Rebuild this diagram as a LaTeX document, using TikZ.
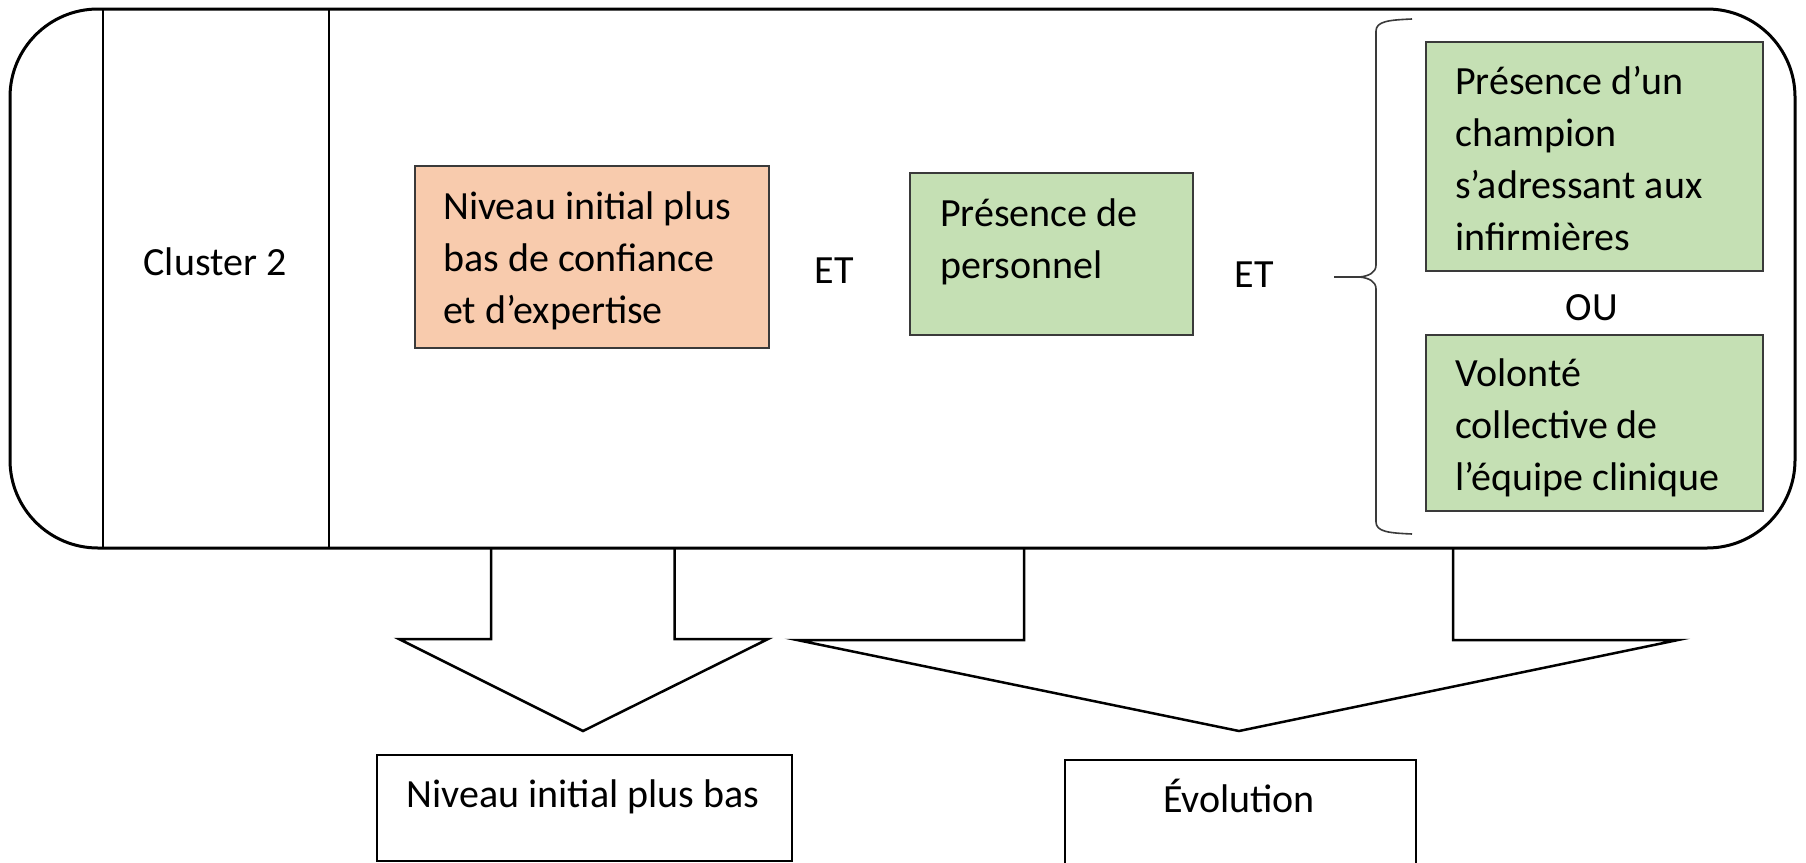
\documentclass[tikz,border=0pt]{standalone}
\usepackage{fontspec}
\setmainfont{Carlito}
\definecolor{peach}{HTML}{F8CBAD}
\definecolor{leaf}{HTML}{C5E0B4}
\definecolor{edge}{HTML}{3A3A3A}
\newcommand\mylines[1]{\begin{tabular}[t]{@{}l@{}}#1\end{tabular}}
\begin{document}
\begin{tikzpicture}[x=1pt,y=-1pt,
  frame/.style={line width=3pt, rounded corners=88pt},
  sep/.style={line width=2.5pt},
  box/.style={draw=edge, line width=1.8pt, inner sep=0pt},
  wbox/.style={draw=black, line width=1.6pt, inner sep=0pt, fill=white},
  txt/.style={inner sep=0pt, anchor=base west, font=\fontsize{40}{52}\selectfont},
  ctxt/.style={inner sep=0pt, anchor=base, font=\fontsize{40}{52}\selectfont},
  blockarrow/.style={line width=2.5pt, line join=miter},
  bracel/.style={draw=edge, line width=1.6pt}]
\useasboundingbox (0,0) rectangle (1806,862);
\fill[white] (0,0) rectangle (1806,862);

% outer frame
\draw[frame] (10,9) rectangle (1795,548);
\coordinate (s1t) at (103,9); \coordinate (s1b) at (103,548);
\coordinate (s2t) at (329,9); \coordinate (s2b) at (329,548);
\draw[sep] (s1t) -- (s1b);
\draw[sep] (s2t) -- (s2b);

\node[ctxt] (cl) at (215,275) {Cluster 2};

% boxes
\node[box, fill=peach, minimum width=354pt, minimum height=182pt] (orange) at (592,257) {};
\node[box, fill=leaf, minimum width=283pt, minimum height=162pt] (g1) at (1051.5,254) {};
\node[box, fill=leaf, minimum width=337pt, minimum height=229pt] (g2) at (1594.5,156.5) {};
\node[box, fill=leaf, minimum width=337pt, minimum height=176pt] (g3) at (1594.5,423) {};

\node[txt] (to) at (443,219) {\mylines{Niveau initial plus\\bas de confiance\\et d’expertise}};
\node[txt] (tg1) at (940,226) {\mylines{Présence de\\personnel}};
\node[txt] (tg2) at (1455,94) {\mylines{Présence d’un\\champion\\s’adressant aux\\infirmières}};
\node[txt] (tg3) at (1455,386) {\mylines{Volonté\\collective de\\l’équipe clinique}};

\node[ctxt] (et1) at (834,283) {ET};
\node[ctxt] (et2) at (1254,287) {ET};
\node[ctxt] (ou) at (1592,320) {OU};

% brace
\coordinate (bs) at (1334,277);
\coordinate (bt) at (1360,277);
\draw[bracel] (bs) -- (bt);
\draw[bracel] (1412,19) .. controls (1390,20) and (1376,21) .. (1376,31) -- (1376,265)
  .. controls (1376,273) and (1368,276) .. (bt)
  .. controls (1368,278) and (1376,281) .. (1376,289) -- (1376,522)
  .. controls (1376,532) and (1390,533) .. (1412,534);

% block arrows
\draw[blockarrow] (491,548) -- (491,639) -- (399,639) -- (583,731) -- (768,639) -- (674.5,639) -- (674.5,548);
\draw[blockarrow] (1024,548) -- (1024,640) -- (797,640) -- (1239,731) -- (1678,640) -- (1453,640) -- (1453,548);

% outcome boxes
\node[wbox, minimum width=415pt, minimum height=106pt] (low) at (584.5,808) {};
\node[wbox, minimum width=351pt, minimum height=116pt] (evo) at (1240.5,818) {};
\node[ctxt] (tlow) at (583,807) {Niveau initial plus bas};
\node[ctxt] (tevo) at (1239,812) {Évolution};
\end{tikzpicture}
\end{document}
